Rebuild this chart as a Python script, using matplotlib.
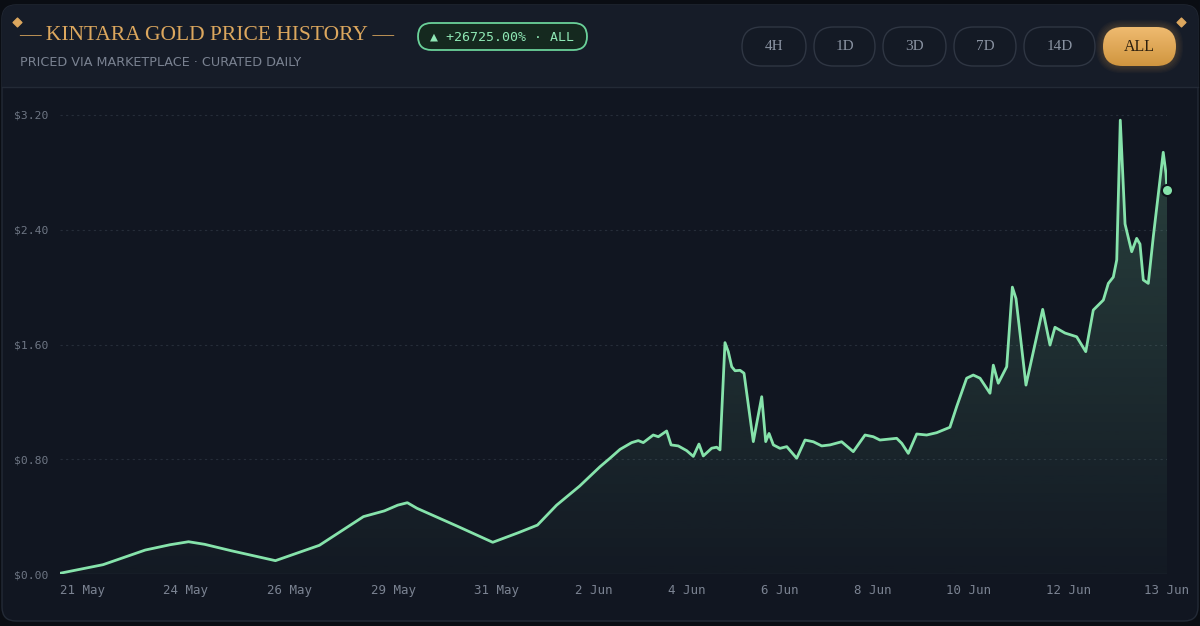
import numpy as np
import matplotlib
matplotlib.use('Agg')
import matplotlib.pyplot as plt
from matplotlib.patches import FancyBboxPatch, Rectangle
from matplotlib.colors import to_rgb


# ---- data ----
# x is the position along the time axis (sample index, 0..1000)
idx = [0, 38.9, 77.0, 99.4, 116.1, 130.6, 154.8, 194.6, 234.3, 274.1,
       293.0, 305.1, 313.8, 322.5, 358.7, 390.9, 414.1, 431.3, 448.6, 469.4,
       487.8, 496.8, 505.9, 516.4, 522.4, 526.9, 535.9, 540.5, 548.0, 552.0,
       558.5, 566.1, 572.1, 577.2, 581.1, 588.7, 593.2, 596.2, 600.7, 603.7,
       606.8, 609.8, 614.3, 617.9, 626.3, 633.9, 637.5, 640.5, 644.4, 650.4,
       656.5, 665.5, 673.0, 680.5, 688.1, 695.6, 706.1, 716.6, 727.2, 734.7,
       740.7, 755.8, 760.4, 766.3, 773.9, 782.9, 791.9, 803.9, 810.0, 819.0,
       825.0, 831.1, 840.1, 843.1, 847.6, 855.2, 860.3, 863.6, 872.6, 887.7,
       894.3, 898.8, 907.8, 918.4, 926.6, 933.4, 942.5, 947.0, 951.5, 954.6,
       957.8, 962.1, 968.1, 972.6, 975.6, 978.6, 983.1, 987.6, 996.6, 999.1,
       1000]
price = [0.005, 0.065, 0.167, 0.204, 0.225, 0.207, 0.162, 0.093, 0.200, 0.40,
         0.44, 0.48, 0.497, 0.458, 0.334, 0.221, 0.288, 0.341, 0.48, 0.613,
         0.748, 0.807, 0.869, 0.916, 0.93, 0.916, 0.969, 0.957, 0.997, 0.90,
         0.893, 0.86, 0.82, 0.906, 0.823, 0.877, 0.884, 0.865, 1.613, 1.55,
         1.445, 1.417, 1.42, 1.40, 0.923, 1.236, 0.923, 0.98, 0.90, 0.876,
         0.888, 0.807, 0.934, 0.922, 0.893, 0.90, 0.922, 0.853, 0.969, 0.957,
         0.934, 0.946, 0.911, 0.841, 0.976, 0.969, 0.985, 1.023, 1.167, 1.365,
         1.387, 1.365, 1.26, 1.456, 1.33, 1.445, 2.00, 1.92, 1.317, 1.845,
         1.596, 1.72, 1.68, 1.654, 1.55, 1.84, 1.91, 2.026, 2.07, 2.19,
         3.164, 2.44, 2.247, 2.34, 2.30, 2.05, 2.026, 2.35, 2.94, 2.79,
         2.68]

tick_pos = [20, 113, 207, 301, 394, 482, 566, 650, 734, 821, 911, 1000]
tick_labels = ['21 May', '24 May', '26 May', '29 May', '31 May', '2 Jun',
               '4 Jun', '6 Jun', '8 Jun', '10 Jun', '12 Jun', '13 Jun']
y_ticks = [0, 0.8, 1.6, 2.4, 3.2]

ranges = ['4H', '1D', '3D', '7D', '14D', 'ALL']
active_range = 'ALL'
change_pct = 26725.00

title = '— KINTARA GOLD PRICE HISTORY —'
subtitle = 'PRICED VIA MARKETPLACE · CURATED DAILY'

# ---- colours ----
GOLD = '#dca75e'
MINT = '#86e3ab'
CARD = '#111621'
HEADER = '#161c28'
BORDER = '#232a36'
MUTED = '#7a8291'


def pill(ax, x, y, w, h, **kw):
    p = FancyBboxPatch((x, y), w, h,
                       boxstyle='round,pad=0,rounding_size=%f' % (h / 2), **kw)
    ax.add_patch(p)
    return p


fig = plt.figure(figsize=(12, 6.26), dpi=100, facecolor='#0a0d13')

# background / header layer in pixel coordinates
bg = fig.add_axes([0, 0, 1, 1], zorder=0)
bg.set_xlim(0, 1200)
bg.set_ylim(626, 0)
bg.axis('off')

card = FancyBboxPatch((2, 5), 1196, 616,
                      boxstyle='round,pad=0,rounding_size=14',
                      facecolor=CARD, edgecolor=BORDER, lw=1)
bg.add_patch(card)
head = Rectangle((2, 5), 1196, 82, facecolor=HEADER, edgecolor='none')
bg.add_patch(head)
head.set_clip_path(card)
bg.plot([2, 1198], [87, 87], color=BORDER, lw=1)

# ornaments
bg.scatter([17, 1181], [22, 22], marker='D', s=20, color=GOLD, zorder=5)

bg.text(19, 36, title, fontsize=15.5, family='Liberation Serif',
        color=GOLD, va='center', ha='left')
bg.text(20, 63, subtitle, fontsize=9.2, family='DejaVu Sans',
        color=MUTED, va='center', ha='left')

# change badge
pill(bg, 418, 23, 169, 27, facecolor='#15291f', edgecolor='#6bd29a', lw=1.3)
bg.text(502.5, 37, '▲ +{:.2f}% · ALL'.format(change_pct),
        family=['DejaVu Sans Mono', 'DejaVu Sans'], fontsize=9.5,
        color='#8fe8b5', ha='center', va='center')

# range buttons
btn_x = [742, 814, 883, 954, 1024, 1103]
btn_w = [64, 61, 63, 62, 71, 73]
for lab, x, w in zip(ranges, btn_x, btn_w):
    if lab == active_range:
        for k in range(1, 7):
            pill(bg, x - k * 1.2, 27 - k * 1.2, w + k * 2.4, 39 + k * 2.4,
                 facecolor='#e2a955', edgecolor='none', alpha=0.035)
        p = pill(bg, x, 27, w, 39, facecolor='none', edgecolor='none')
        grad = np.zeros((64, 1, 4))
        c0 = np.array(to_rgb('#efbb70'))
        c1 = np.array(to_rgb('#d0953f'))
        t = np.linspace(0, 1, 64)[:, None]
        grad[:, 0, :3] = c0 * (1 - t) + c1 * t
        grad[..., 3] = 1
        im = bg.imshow(grad, extent=[x, x + w, 66, 27], origin='upper',
                       aspect='auto', zorder=3)
        im.set_clip_path(p)
        bg.text(x + w / 2, 47, lab, family='Liberation Serif', fontsize=11.5,
                color='#2b1e0d', ha='center', va='center', zorder=4)
    else:
        pill(bg, x, 27, w, 39, facecolor='#141a25', edgecolor='#2f3643', lw=1)
        bg.text(x + w / 2, 47, lab, family='Liberation Serif', fontsize=11,
                color='#8a93a2', ha='center', va='center')
bg.set_xlim(0, 1200)
bg.set_ylim(626, 0)

# ---- price chart ----
ymax = 3.2 * 474 / 459
ax = fig.add_axes([60 / 1200, 52 / 626, 1107 / 1200, 474 / 626], zorder=1)
ax.set_facecolor('none')

for v in y_ticks:
    if v == 0:
        ax.axhline(v, color='#252c38', lw=1, zorder=1)
    else:
        ax.axhline(v, color='#262d39', lw=0.8, ls=(0, (2, 3)), zorder=1)

fill = ax.fill_between(idx, price, 0, facecolor='none', edgecolor='none')
grad = np.zeros((256, 1, 4))
grad[..., :3] = to_rgb(MINT)
grad[:, 0, 3] = np.linspace(0.22, 0.02, 256)
im = ax.imshow(grad, extent=[0, 1000, 0, 3.2], origin='upper',
               aspect='auto', zorder=2)
im.set_clip_path(fill.get_paths()[0], transform=ax.transData)

ax.plot(idx, price, color=MINT, lw=2.0, solid_joinstyle='round', zorder=4)
ax.plot(idx[-1], price[-1], 'o', ms=8, mfc=MINT, mec='#0f141c', mew=1.5,
        clip_on=False, zorder=5)

ax.set_xlim(0, 1000)
ax.set_ylim(0, ymax)
for s in ax.spines.values():
    s.set_visible(False)

ax.set_yticks(y_ticks)
ax.set_yticklabels(['${:.2f}'.format(v) for v in y_ticks])
ax.set_xticks(tick_pos)
ax.set_xticklabels(tick_labels)
ax.tick_params(axis='y', length=0, pad=8.5, colors='#6e7684', labelsize=8.2)
ax.tick_params(axis='x', length=0, pad=7, colors='#7b8392', labelsize=9)
for lbl in ax.get_xticklabels() + ax.get_yticklabels():
    lbl.set_family('DejaVu Sans Mono')

fig.savefig('out.png', dpi=100, facecolor=fig.get_facecolor())
